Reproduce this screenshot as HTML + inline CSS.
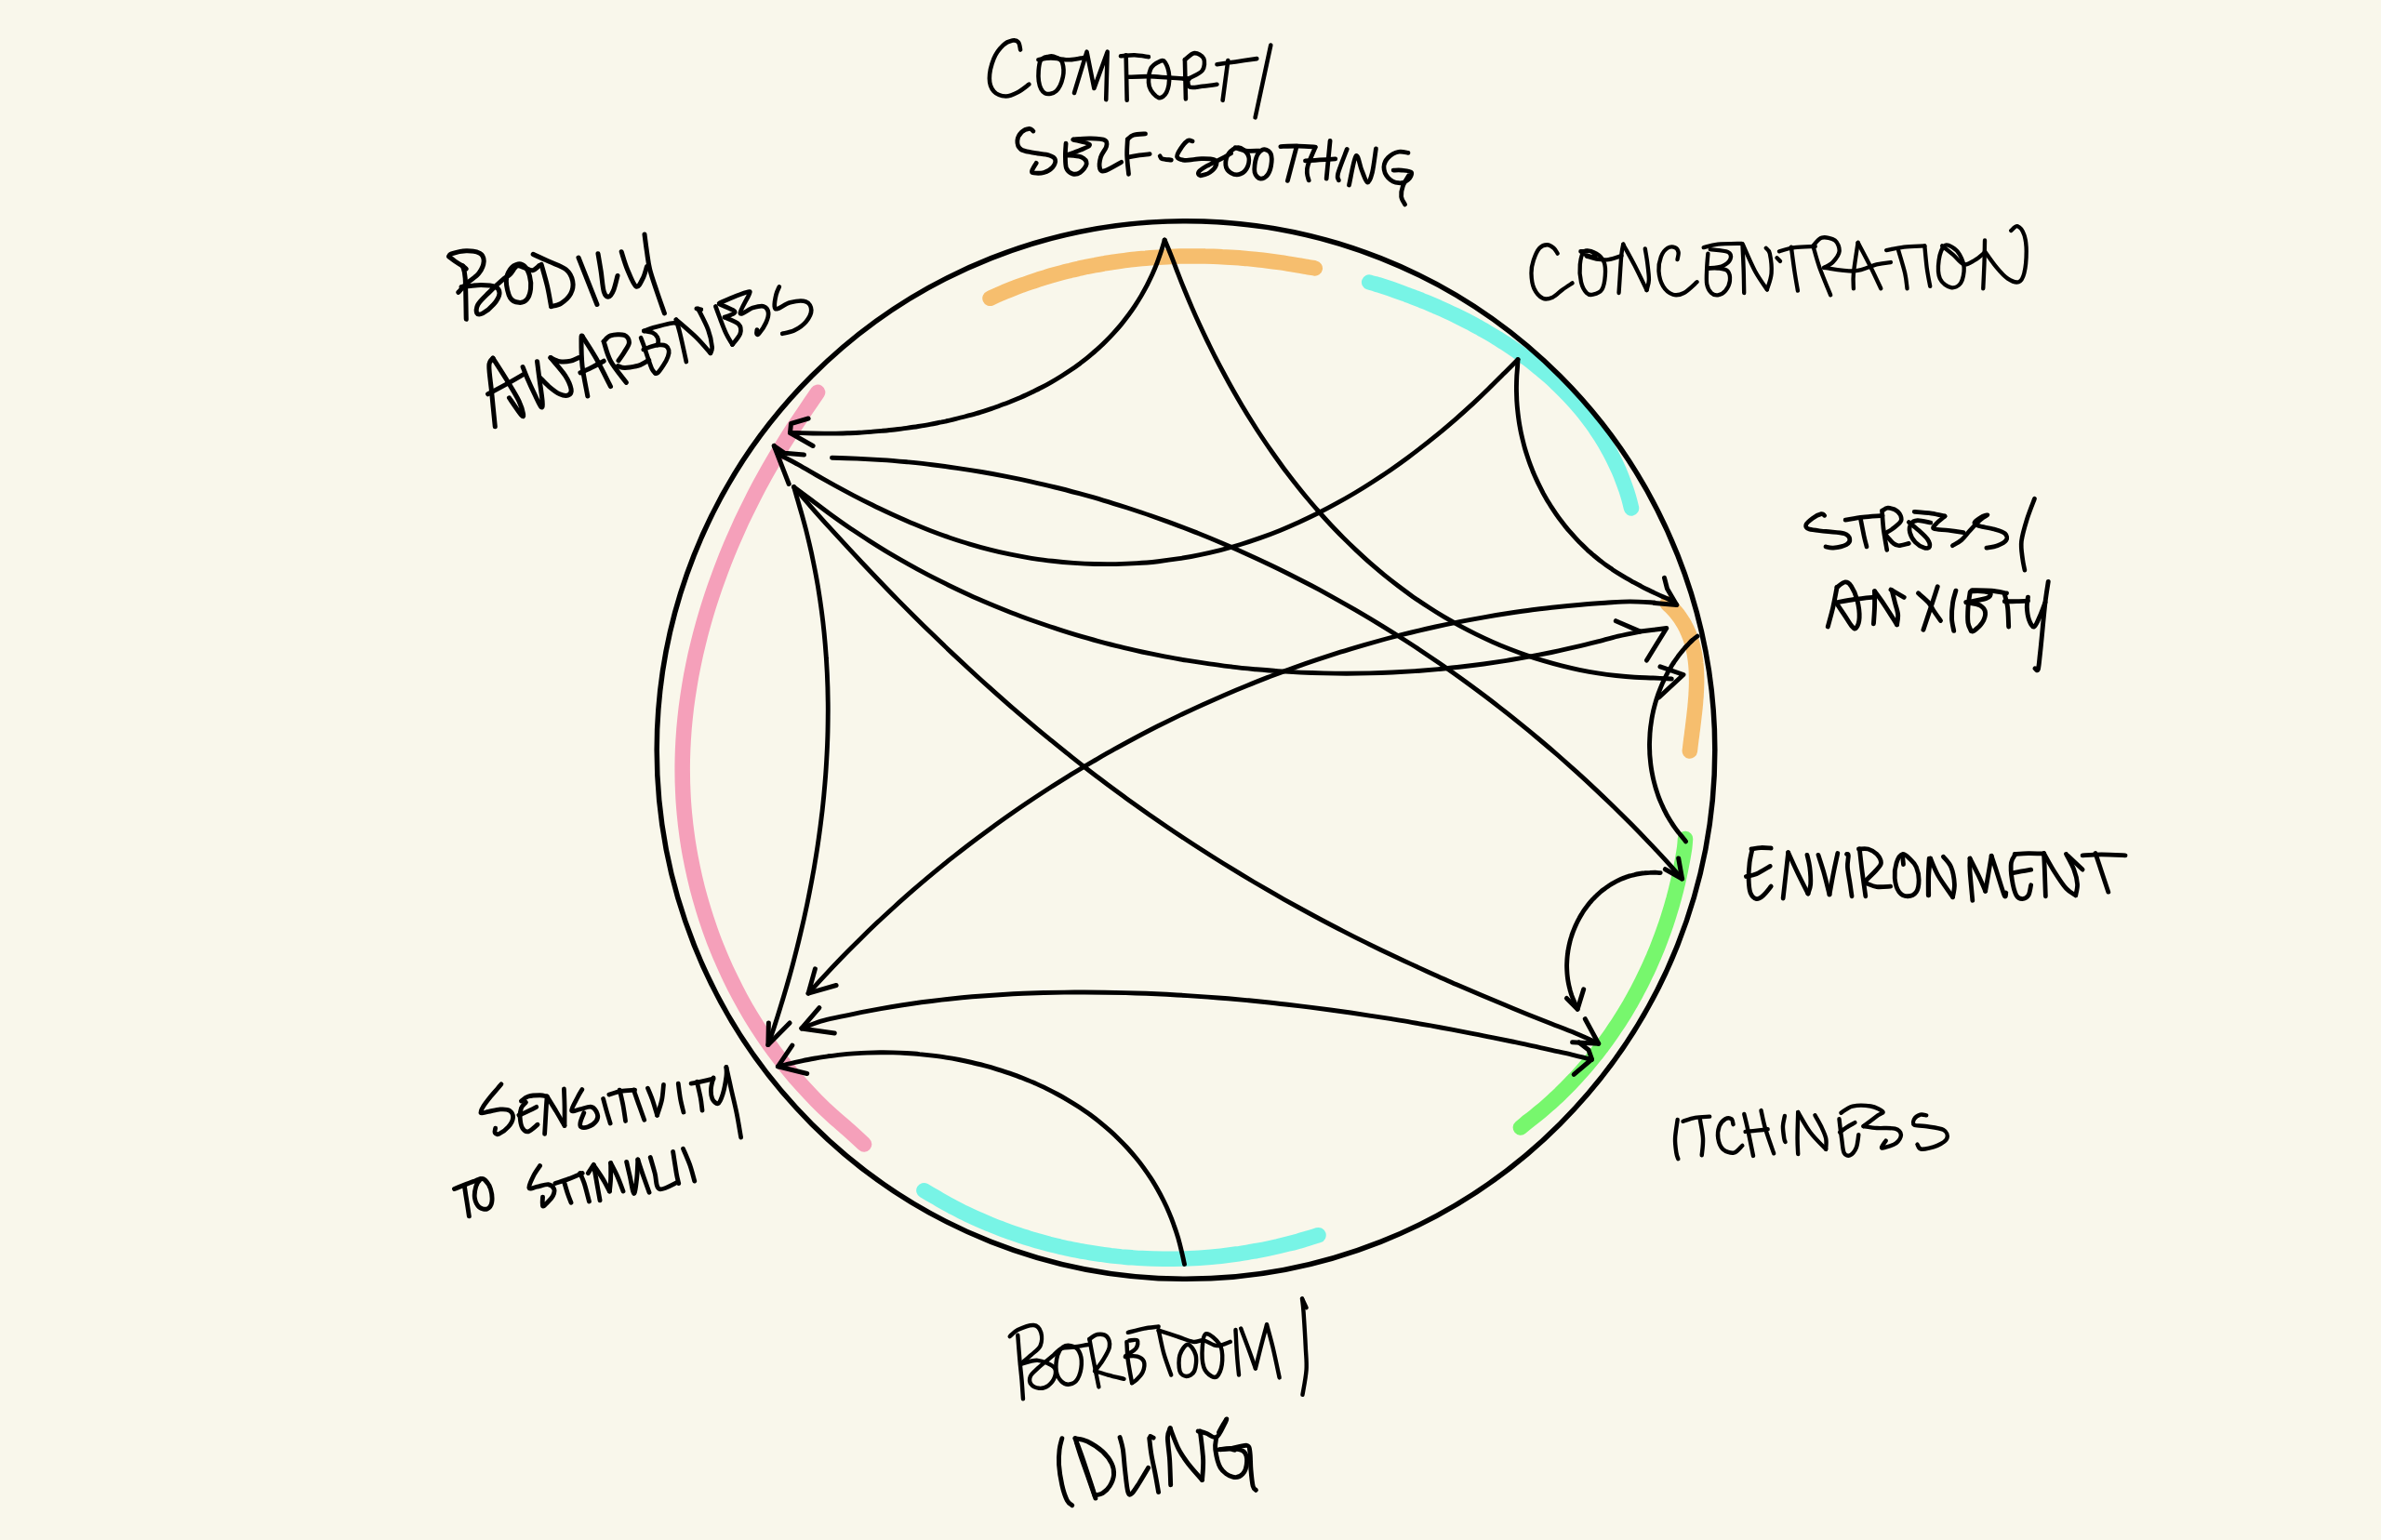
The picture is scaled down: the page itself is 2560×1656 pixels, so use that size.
<!DOCTYPE html>
<html><head><meta charset="utf-8"><title>Diagram</title>
<style>
html,body{margin:0;padding:0;background:#F9F7EB;width:2560px;height:1656px;overflow:hidden;font-family:"Liberation Sans",sans-serif;}
svg{display:block;}
</style></head><body>
<svg width="2560" height="1656" viewBox="0 0 2560 1656">
<rect width="2560" height="1656" fill="#F9F7EB"/>
<g fill="none" stroke-linecap="round" stroke-linejoin="round">

<path d="M1064.5,320.8C1065.9,320.2 1070.0,318.2 1072.8,317.0C1075.6,315.7 1078.4,314.6 1081.2,313.4C1084.1,312.2 1086.9,311.1 1089.7,310.0C1092.6,308.9 1095.4,307.8 1098.3,306.8C1101.2,305.7 1104.0,304.7 1106.9,303.7C1109.8,302.7 1112.7,301.7 1115.6,300.8C1118.5,299.9 1121.4,298.9 1124.3,298.1C1127.2,297.2 1130.1,296.3 1133.1,295.5C1136.0,294.7 1138.9,293.9 1141.9,293.1C1144.8,292.3 1147.8,291.6 1150.7,290.9C1153.7,290.1 1156.6,289.4 1159.6,288.8C1162.6,288.1 1165.6,287.5 1168.5,286.8C1171.5,286.2 1174.5,285.6 1177.5,285.1C1180.5,284.5 1183.5,284.0 1186.5,283.5C1189.5,282.9 1192.5,282.5 1195.5,282.0C1198.5,281.5 1201.5,281.1 1204.5,280.7C1207.5,280.3 1210.6,279.9 1213.6,279.5C1216.6,279.2 1219.6,278.8 1222.7,278.5C1225.7,278.2 1228.7,277.9 1231.8,277.7C1234.8,277.4 1237.8,277.1 1240.9,276.9C1243.9,276.7 1247.0,276.5 1250.0,276.4C1253.0,276.2 1256.1,276.0 1259.1,275.9C1262.2,275.8 1265.2,275.7 1268.3,275.6C1271.3,275.5 1274.4,275.5 1277.4,275.5C1280.5,275.4 1283.5,275.4 1286.6,275.4C1289.7,275.5 1292.7,275.5 1295.8,275.6C1298.8,275.6 1301.9,275.7 1304.9,275.8C1308.0,275.9 1311.0,276.0 1314.1,276.2C1317.1,276.3 1320.2,276.5 1323.2,276.7C1326.3,276.9 1329.3,277.1 1332.3,277.3C1335.4,277.6 1338.4,277.8 1341.5,278.1C1344.5,278.4 1347.5,278.7 1350.6,279.0C1353.6,279.3 1356.7,279.7 1359.7,280.0C1362.7,280.4 1365.7,280.8 1368.8,281.2C1371.8,281.6 1374.8,282.0 1377.8,282.4C1380.8,282.9 1383.8,283.3 1386.8,283.8C1389.8,284.3 1392.8,284.8 1395.8,285.3C1398.8,285.8 1401.8,286.4 1404.8,286.9C1407.8,287.5 1412.3,288.2 1413.8,288.5" stroke="#F6BE6E" stroke-width="16.5"/>
<path d="M1472.2,303.5C1473.8,304.0 1478.5,305.3 1481.7,306.2C1484.8,307.2 1487.8,308.2 1490.9,309.2C1494.0,310.2 1497.1,311.3 1500.2,312.4C1503.3,313.5 1506.4,314.6 1509.5,315.7C1512.6,316.8 1515.7,318.0 1518.8,319.2C1521.9,320.4 1525.0,321.6 1528.1,322.8C1531.2,324.1 1534.3,325.3 1537.3,326.6C1540.4,327.9 1543.5,329.2 1546.5,330.6C1549.6,331.9 1552.7,333.3 1555.7,334.7C1558.7,336.1 1561.8,337.6 1564.8,339.0C1567.8,340.5 1570.8,342.0 1573.8,343.5C1576.8,345.0 1579.8,346.6 1582.7,348.1C1585.7,349.7 1588.7,351.3 1591.6,353.0C1594.5,354.6 1597.4,356.3 1600.3,358.0C1603.2,359.7 1606.1,361.4 1609.0,363.2C1611.8,364.9 1614.6,366.7 1617.5,368.5C1620.3,370.3 1623.1,372.2 1625.8,374.1C1628.6,375.9 1631.3,377.8 1634.0,379.8C1636.8,381.7 1639.4,383.7 1642.1,385.7C1644.8,387.7 1647.4,389.7 1650.0,391.8C1652.6,393.9 1655.2,396.0 1657.7,398.1C1660.3,400.2 1662.8,402.4 1665.3,404.6C1667.7,406.8 1670.2,409.0 1672.6,411.3C1675.0,413.5 1677.4,415.8 1679.7,418.2C1682.0,420.5 1684.3,422.8 1686.6,425.2C1688.9,427.6 1691.1,430.0 1693.3,432.5C1695.5,435.0 1697.6,437.5 1699.7,440.0C1701.8,442.5 1703.9,445.1 1705.9,447.7C1707.9,450.3 1709.9,452.9 1711.8,455.6C1713.7,458.2 1715.6,460.9 1717.4,463.7C1719.3,466.4 1721.0,469.2 1722.8,472.0C1724.5,474.8 1726.2,477.6 1727.8,480.5C1729.5,483.4 1731.1,486.3 1732.6,489.3C1734.1,492.2 1735.6,495.2 1737.0,498.2C1738.5,501.2 1739.8,504.3 1741.2,507.4C1742.5,510.5 1743.7,513.6 1744.9,516.8C1746.1,520.0 1747.3,523.2 1748.4,526.4C1749.4,529.6 1750.5,532.9 1751.4,536.2C1752.4,539.6 1753.6,544.7 1754.0,546.4" stroke="#78F4E6" stroke-width="16.5"/>
<path d="M1792.7,649.0C1793.2,649.5 1794.9,650.9 1795.9,651.9C1797.0,653.0 1798.1,654.1 1799.1,655.2C1800.1,656.3 1801.1,657.4 1802.0,658.5C1803.0,659.7 1803.9,660.8 1804.7,662.0C1805.6,663.1 1806.4,664.3 1807.2,665.5C1808.0,666.7 1808.8,667.9 1809.5,669.1C1810.3,670.3 1811.0,671.5 1811.6,672.8C1812.3,674.0 1812.9,675.2 1813.5,676.5C1814.1,677.8 1814.7,679.0 1815.2,680.3C1815.8,681.6 1816.3,682.9 1816.8,684.2C1817.3,685.5 1817.7,686.8 1818.2,688.2C1818.6,689.5 1819.0,690.8 1819.4,692.2C1819.7,693.5 1820.1,694.9 1820.4,696.2C1820.7,697.6 1821.0,698.9 1821.3,700.3C1821.6,701.7 1821.9,703.1 1822.1,704.5C1822.3,705.9 1822.5,707.3 1822.7,708.7C1822.9,710.1 1823.1,711.5 1823.2,712.9C1823.4,714.3 1823.5,715.7 1823.6,717.2C1823.7,718.6 1823.8,720.0 1823.9,721.5C1823.9,722.9 1824.0,724.3 1824.0,725.8C1824.1,727.2 1824.1,728.7 1824.1,730.1C1824.1,731.6 1824.1,733.0 1824.1,734.5C1824.1,735.9 1824.0,737.4 1824.0,738.9C1823.9,740.3 1823.9,741.8 1823.8,743.2C1823.7,744.7 1823.6,746.2 1823.6,747.6C1823.5,749.1 1823.4,750.5 1823.2,752.0C1823.1,753.5 1823.0,754.9 1822.9,756.4C1822.7,757.9 1822.6,759.3 1822.5,760.8C1822.3,762.2 1822.2,763.7 1822.0,765.1C1821.9,766.6 1821.7,768.0 1821.5,769.5C1821.4,770.9 1821.2,772.4 1821.0,773.8C1820.8,775.3 1820.7,776.7 1820.5,778.1C1820.3,779.6 1820.1,781.0 1820.0,782.4C1819.8,783.8 1819.6,785.3 1819.4,786.7C1819.2,788.1 1819.1,789.5 1818.9,790.9C1818.7,792.3 1818.5,793.7 1818.3,795.1C1818.2,796.5 1818.0,797.8 1817.8,799.2C1817.7,800.6 1817.5,801.9 1817.3,803.3C1817.2,804.7 1816.9,806.8 1816.8,807.5" stroke="#F6BE6E" stroke-width="16.5"/>
<path d="M1812.0,902.0C1811.9,903.6 1811.6,908.3 1811.2,911.4C1810.8,914.5 1810.2,917.6 1809.7,920.7C1809.2,923.8 1808.6,926.9 1808.0,929.9C1807.4,933.0 1806.8,936.1 1806.1,939.2C1805.5,942.3 1804.8,945.3 1804.1,948.4C1803.4,951.4 1802.6,954.5 1801.9,957.6C1801.1,960.6 1800.3,963.6 1799.5,966.7C1798.6,969.7 1797.8,972.7 1796.9,975.8C1796.0,978.8 1795.1,981.8 1794.1,984.8C1793.2,987.8 1792.2,990.8 1791.2,993.8C1790.2,996.7 1789.2,999.7 1788.1,1002.7C1787.0,1005.6 1785.9,1008.6 1784.8,1011.5C1783.7,1014.5 1782.6,1017.4 1781.4,1020.3C1780.2,1023.2 1779.0,1026.1 1777.8,1029.0C1776.5,1031.9 1775.3,1034.8 1774.0,1037.7C1772.7,1040.5 1771.4,1043.4 1770.0,1046.2C1768.7,1049.1 1767.3,1051.9 1765.9,1054.7C1764.5,1057.5 1763.1,1060.3 1761.6,1063.1C1760.2,1065.9 1758.7,1068.6 1757.2,1071.4C1755.7,1074.1 1754.1,1076.9 1752.6,1079.6C1751.0,1082.3 1749.4,1085.0 1747.8,1087.7C1746.2,1090.4 1744.5,1093.1 1742.8,1095.7C1741.2,1098.4 1739.5,1101.0 1737.7,1103.6C1736.0,1106.2 1734.3,1108.8 1732.5,1111.4C1730.7,1114.0 1728.9,1116.5 1727.0,1119.1C1725.2,1121.6 1723.3,1124.1 1721.5,1126.6C1719.6,1129.1 1717.6,1131.6 1715.7,1134.0C1713.8,1136.5 1711.8,1138.9 1709.8,1141.3C1707.8,1143.8 1705.8,1146.1 1703.7,1148.5C1701.7,1150.9 1699.6,1153.2 1697.5,1155.5C1695.4,1157.9 1693.3,1160.2 1691.1,1162.4C1689.0,1164.7 1686.8,1167.0 1684.6,1169.2C1682.4,1171.4 1680.2,1173.6 1677.9,1175.8C1675.7,1178.0 1673.4,1180.1 1671.1,1182.2C1668.8,1184.4 1666.5,1186.5 1664.1,1188.5C1661.8,1190.6 1659.4,1192.7 1657.0,1194.7C1654.6,1196.7 1652.1,1198.7 1649.7,1200.6C1647.2,1202.6 1644.7,1204.5 1642.2,1206.4C1639.8,1208.4 1636.1,1211.5 1634.9,1212.5" stroke="#77F76D" stroke-width="16.5"/>
<path d="M993.4,1280.2C995.0,1281.1 999.9,1284.0 1003.2,1285.9C1006.4,1287.8 1009.7,1289.7 1013.0,1291.6C1016.3,1293.5 1019.6,1295.3 1022.9,1297.1C1026.2,1298.8 1029.6,1300.6 1033.0,1302.3C1036.3,1304.0 1039.7,1305.6 1043.1,1307.2C1046.5,1308.8 1050.0,1310.4 1053.4,1311.9C1056.8,1313.4 1060.3,1314.9 1063.8,1316.4C1067.3,1317.8 1070.7,1319.2 1074.3,1320.5C1077.8,1321.9 1081.3,1323.2 1084.8,1324.5C1088.4,1325.8 1091.9,1327.0 1095.5,1328.2C1099.0,1329.4 1102.6,1330.5 1106.2,1331.6C1109.8,1332.7 1113.4,1333.8 1117.0,1334.8C1120.6,1335.8 1124.3,1336.8 1127.9,1337.8C1131.6,1338.7 1135.2,1339.6 1138.9,1340.4C1142.5,1341.3 1146.2,1342.1 1149.9,1342.9C1153.5,1343.7 1157.2,1344.4 1160.9,1345.1C1164.6,1345.8 1168.3,1346.4 1172.0,1347.0C1175.7,1347.6 1179.5,1348.2 1183.2,1348.7C1186.9,1349.3 1190.6,1349.7 1194.4,1350.2C1198.1,1350.6 1201.8,1351.0 1205.6,1351.4C1209.3,1351.7 1213.1,1352.1 1216.8,1352.3C1220.6,1352.6 1224.3,1352.9 1228.1,1353.1C1231.9,1353.3 1235.6,1353.4 1239.4,1353.5C1243.1,1353.6 1246.9,1353.7 1250.7,1353.8C1254.4,1353.8 1258.2,1353.8 1262.0,1353.7C1265.7,1353.7 1269.5,1353.6 1273.3,1353.5C1277.0,1353.3 1280.8,1353.2 1284.6,1353.0C1288.3,1352.8 1292.1,1352.5 1295.8,1352.2C1299.6,1351.9 1303.3,1351.6 1307.1,1351.2C1310.8,1350.9 1314.6,1350.5 1318.3,1350.0C1322.1,1349.6 1325.8,1349.1 1329.5,1348.5C1333.3,1348.0 1337.0,1347.4 1340.7,1346.8C1344.4,1346.2 1348.1,1345.6 1351.8,1344.9C1355.6,1344.2 1359.3,1343.5 1362.9,1342.7C1366.6,1341.9 1370.3,1341.1 1374.0,1340.3C1377.6,1339.4 1381.3,1338.5 1385.0,1337.6C1388.6,1336.7 1392.3,1335.7 1395.9,1334.7C1399.5,1333.7 1403.1,1332.6 1406.7,1331.5C1410.3,1330.5 1415.7,1328.8 1417.5,1328.2" stroke="#78F4E6" stroke-width="16.5"/>
<path d="M879.1,421.8C876.9,425.0 870.4,434.6 866.1,441.0C861.9,447.3 857.6,453.5 853.4,459.9C849.3,466.3 845.2,472.8 841.2,479.3C837.2,485.8 833.2,492.4 829.4,499.1C825.5,505.8 821.8,512.5 818.1,519.3C814.4,526.1 810.9,533.0 807.4,539.9C803.9,546.8 800.5,553.8 797.2,560.8C794.0,567.9 790.8,575.0 787.7,582.1C784.6,589.2 781.7,596.4 778.8,603.7C776.0,610.9 773.3,618.2 770.7,625.5C768.0,632.8 765.6,640.1 763.2,647.5C760.8,654.9 758.6,662.4 756.5,669.8C754.4,677.3 752.4,684.8 750.6,692.3C748.7,699.8 747.0,707.3 745.5,714.9C743.9,722.4 742.5,730.0 741.3,737.6C740.0,745.2 738.9,752.9 737.9,760.5C737.0,768.1 736.2,775.8 735.5,783.4C734.9,791.1 734.4,798.7 734.1,806.4C733.8,814.1 733.6,821.7 733.7,829.4C733.7,837.1 733.9,844.7 734.3,852.4C734.6,860.1 735.2,867.7 735.9,875.3C736.6,883.0 737.5,890.6 738.6,898.2C739.6,905.8 740.9,913.4 742.3,921.0C743.7,928.5 745.3,936.0 747.0,943.5C748.7,951.0 750.6,958.4 752.7,965.8C754.8,973.2 757.0,980.6 759.4,987.9C761.8,995.2 764.3,1002.5 767.0,1009.7C769.8,1016.8 772.6,1024.0 775.7,1031.0C778.7,1038.1 781.9,1045.1 785.3,1052.0C788.6,1058.9 792.1,1065.8 795.8,1072.6C799.4,1079.3 803.2,1086.0 807.2,1092.6C811.2,1099.2 815.3,1105.7 819.6,1112.1C823.8,1118.5 828.3,1124.8 832.8,1131.0C837.4,1137.2 842.1,1143.3 847.0,1149.2C851.8,1155.2 856.8,1161.1 862.0,1166.8C867.2,1172.5 872.5,1178.2 877.9,1183.7C883.3,1189.2 888.9,1194.5 894.6,1199.7C900.4,1205.0 906.5,1209.9 912.2,1215.0C918.0,1220.1 926.3,1227.9 929.1,1230.5" stroke="#F5A0BA" stroke-width="16.5"/>
<circle cx="1275" cy="806.5" r="568.8" stroke="#000" stroke-width="5.5"/>
<g stroke="#000" stroke-width="4.9">
<path d="M1252.2,258.0C1251.6,260.0 1249.9,265.9 1248.5,270.1C1247.1,274.2 1245.6,278.6 1244.0,282.8C1242.4,286.9 1240.7,291.0 1238.9,295.0C1237.1,298.9 1235.2,302.8 1233.3,306.7C1231.3,310.5 1229.2,314.2 1227.1,317.9C1225.0,321.5 1222.7,325.1 1220.4,328.6C1218.1,332.1 1215.7,335.5 1213.3,338.8C1210.8,342.1 1208.3,345.4 1205.7,348.6C1203.1,351.7 1200.4,354.8 1197.6,357.9C1194.9,360.9 1192.0,363.9 1189.1,366.7C1186.3,369.6 1183.3,372.4 1180.3,375.1C1177.2,377.9 1174.1,380.5 1171.0,383.1C1167.8,385.7 1164.6,388.2 1161.4,390.7C1158.1,393.1 1154.8,395.5 1151.4,397.8C1148.0,400.1 1144.6,402.3 1141.1,404.5C1137.6,406.7 1134.1,408.8 1130.5,410.8C1126.9,412.9 1123.3,414.9 1119.6,416.8C1116.0,418.7 1112.2,420.5 1108.5,422.3C1104.7,424.1 1100.9,425.8 1097.1,427.5C1093.3,429.1 1089.4,430.7 1085.5,432.3C1081.6,433.8 1077.7,435.3 1073.7,436.7C1069.7,438.2 1065.7,439.5 1061.7,440.8C1057.7,442.1 1053.7,443.4 1049.6,444.6C1045.5,445.8 1041.4,446.9 1037.3,448.0C1033.2,449.1 1029.0,450.1 1024.9,451.1C1020.7,452.1 1016.6,453.0 1012.4,453.9C1008.2,454.7 1004.0,455.6 999.8,456.3C995.6,457.1 991.4,457.8 987.2,458.5C982.9,459.2 978.7,459.8 974.5,460.4C970.2,461.0 966.0,461.5 961.8,462.0C957.5,462.5 953.3,462.9 949.1,463.3C944.8,463.7 940.6,464.1 936.4,464.4C932.2,464.7 928.0,465.0 923.8,465.2C919.6,465.4 915.4,465.6 911.2,465.7C907.0,465.9 902.8,466.0 898.7,466.1C894.5,466.1 890.4,466.1 886.3,466.1C882.2,466.1 878.1,466.1 874.0,466.0C870.0,465.9 866.0,465.7 861.9,465.6C857.8,465.6 851.6,465.5 849.5,465.5"/>
<path d="M1252.2,258.0C1253.5,261.0 1257.4,270.2 1259.8,276.3C1262.2,282.3 1264.3,288.4 1266.7,294.4C1269.0,300.5 1271.4,306.5 1273.9,312.5C1276.4,318.6 1278.9,324.6 1281.5,330.6C1284.1,336.7 1286.8,342.7 1289.6,348.7C1292.3,354.6 1295.1,360.6 1298.0,366.6C1300.9,372.5 1303.8,378.5 1306.8,384.4C1309.8,390.3 1312.9,396.2 1316.1,402.0C1319.2,407.9 1322.4,413.7 1325.7,419.5C1329.0,425.3 1332.3,431.0 1335.7,436.7C1339.1,442.4 1342.6,448.1 1346.2,453.7C1349.7,459.4 1353.3,465.0 1357.0,470.5C1360.7,476.1 1364.4,481.5 1368.3,487.0C1372.1,492.4 1376.0,497.8 1379.9,503.2C1383.9,508.5 1387.9,513.8 1392.0,519.0C1396.1,524.2 1400.2,529.4 1404.5,534.5C1408.7,539.5 1413.0,544.6 1417.4,549.5C1421.7,554.5 1426.2,559.4 1430.7,564.2C1435.2,569.0 1439.8,573.7 1444.4,578.4C1449.1,583.1 1453.8,587.6 1458.6,592.1C1463.4,596.6 1468.2,601.1 1473.1,605.4C1478.1,609.7 1483.1,614.0 1488.1,618.1C1493.2,622.2 1498.4,626.3 1503.6,630.3C1508.8,634.2 1514.1,638.1 1519.4,641.9C1524.8,645.6 1530.2,649.3 1535.7,652.8C1541.2,656.4 1546.7,659.9 1552.3,663.2C1558.0,666.5 1563.7,669.8 1569.4,672.9C1575.2,676.0 1581.0,679.0 1586.8,681.9C1592.7,684.8 1598.6,687.6 1604.6,690.2C1610.6,692.9 1616.6,695.4 1622.7,697.8C1628.8,700.2 1635.0,702.5 1641.2,704.6C1647.4,706.8 1653.6,708.8 1659.9,710.7C1666.2,712.6 1672.6,714.3 1679.0,715.9C1685.3,717.5 1691.8,719.0 1698.2,720.3C1704.7,721.6 1711.2,722.8 1717.8,723.8C1724.4,724.9 1731.0,725.8 1737.6,726.5C1744.2,727.2 1750.9,727.8 1757.6,728.2C1764.3,728.6 1771.2,728.7 1777.8,729.0C1784.4,729.3 1794.0,729.8 1797.3,730.0"/>
<path d="M1632.0,386.6C1629.3,389.3 1621.4,397.3 1616.0,402.6C1610.7,407.9 1605.4,413.3 1600.0,418.5C1594.6,423.8 1589.1,429.0 1583.6,434.1C1578.0,439.2 1572.4,444.3 1566.7,449.3C1561.0,454.3 1555.2,459.2 1549.4,464.1C1543.5,468.9 1537.6,473.7 1531.6,478.4C1525.7,483.0 1519.6,487.7 1513.5,492.2C1507.4,496.7 1501.3,501.1 1495.0,505.4C1488.8,509.7 1482.5,513.9 1476.1,518.0C1469.8,522.1 1463.3,526.1 1456.8,530.0C1450.4,533.8 1443.8,537.6 1437.2,541.2C1430.6,544.9 1423.9,548.4 1417.2,551.8C1410.5,555.1 1403.7,558.4 1396.8,561.5C1390.0,564.6 1383.1,567.6 1376.1,570.4C1369.2,573.2 1362.1,575.9 1355.1,578.4C1348.0,580.9 1340.9,583.3 1333.7,585.5C1326.5,587.7 1319.3,589.7 1312.0,591.6C1304.7,593.4 1297.4,595.1 1290.0,596.6C1282.6,598.2 1275.2,599.5 1267.7,600.7C1260.3,601.8 1252.8,602.8 1245.2,603.7C1237.7,604.5 1230.1,605.2 1222.6,605.6C1215.0,606.1 1207.4,606.4 1199.8,606.6C1192.2,606.7 1184.6,606.7 1177.0,606.5C1169.4,606.3 1161.8,605.9 1154.2,605.4C1146.6,604.9 1139.1,604.2 1131.5,603.3C1124.0,602.5 1116.4,601.4 1109.0,600.3C1101.5,599.1 1094.0,597.7 1086.6,596.2C1079.2,594.7 1071.8,593.0 1064.5,591.1C1057.2,589.3 1049.9,587.3 1042.7,585.1C1035.5,583.0 1028.3,580.6 1021.2,578.2C1014.1,575.8 1007.0,573.2 1000.0,570.5C993.0,567.7 986.0,564.9 979.1,562.0C972.2,559.0 965.3,556.0 958.4,552.8C951.6,549.6 944.8,546.4 938.0,543.0C931.2,539.7 924.5,536.3 917.8,532.8C911.1,529.3 904.4,525.7 897.8,522.1C891.2,518.4 884.6,514.7 878.0,511.0C871.4,507.2 864.9,503.3 858.3,499.6C851.7,496.0 841.6,490.9 838.2,489.1"/>
<path d="M1632.0,386.6C1631.9,388.0 1631.7,392.2 1631.5,395.1C1631.3,398.1 1631.0,401.1 1630.8,404.1C1630.7,407.1 1630.5,410.1 1630.5,413.0C1630.4,416.0 1630.4,419.0 1630.5,421.9C1630.6,424.9 1630.7,427.8 1630.8,430.8C1631.0,433.7 1631.2,436.6 1631.5,439.6C1631.8,442.5 1632.1,445.4 1632.5,448.3C1632.9,451.2 1633.3,454.1 1633.8,457.0C1634.3,459.8 1634.8,462.7 1635.4,465.6C1636.0,468.4 1636.7,471.2 1637.4,474.0C1638.1,476.9 1638.8,479.7 1639.6,482.5C1640.4,485.2 1641.3,488.0 1642.2,490.7C1643.1,493.5 1644.0,496.2 1645.0,498.9C1646.0,501.6 1647.1,504.3 1648.1,507.0C1649.2,509.7 1650.4,512.3 1651.6,514.9C1652.8,517.6 1654.0,520.2 1655.3,522.7C1656.6,525.3 1657.9,527.9 1659.2,530.4C1660.6,532.9 1662.0,535.4 1663.5,537.9C1665.0,540.3 1666.5,542.8 1668.0,545.2C1669.6,547.6 1671.2,550.0 1672.8,552.4C1674.4,554.7 1676.1,557.1 1677.8,559.3C1679.6,561.6 1681.3,563.9 1683.1,566.1C1684.9,568.4 1686.8,570.6 1688.7,572.7C1690.6,574.9 1692.5,577.0 1694.5,579.1C1696.4,581.2 1698.4,583.3 1700.5,585.3C1702.5,587.3 1704.6,589.3 1706.7,591.3C1708.9,593.2 1711.0,595.1 1713.2,597.0C1715.4,598.8 1717.7,600.7 1719.9,602.5C1722.2,604.2 1724.5,606.0 1726.9,607.7C1729.2,609.4 1731.6,611.0 1734.0,612.7C1736.4,614.3 1738.9,615.9 1741.4,617.4C1743.8,618.9 1746.3,620.4 1748.9,621.9C1751.4,623.4 1754.0,624.8 1756.5,626.2C1759.1,627.6 1761.7,629.0 1764.3,630.3C1766.9,631.7 1769.5,633.0 1772.1,634.3C1774.8,635.6 1777.4,636.8 1780.1,638.1C1782.7,639.3 1785.3,640.5 1788.0,641.8C1790.6,643.0 1793.5,643.9 1795.9,645.3C1798.4,646.8 1801.6,649.6 1802.7,650.5"/>
<path d="M894.5,492.3C899.0,492.4 912.3,492.7 921.3,493.1C930.3,493.5 939.4,494.0 948.4,494.6C957.4,495.2 966.4,496.0 975.4,496.8C984.3,497.7 993.3,498.6 1002.2,499.7C1011.1,500.8 1020.1,502.0 1028.9,503.3C1037.8,504.6 1046.7,506.0 1055.5,507.5C1064.4,509.0 1073.2,510.6 1082.0,512.4C1090.8,514.1 1099.6,515.9 1108.3,517.9C1117.0,519.8 1125.8,521.8 1134.5,524.0C1143.1,526.1 1151.8,528.4 1160.4,530.7C1169.1,533.1 1177.7,535.5 1186.3,538.1C1194.8,540.6 1203.4,543.3 1211.9,546.0C1220.4,548.8 1228.9,551.6 1237.3,554.5C1245.8,557.5 1254.2,560.5 1262.6,563.6C1271.0,566.7 1279.3,570.0 1287.7,573.3C1296.0,576.6 1304.3,580.0 1312.5,583.5C1320.8,587.0 1329.0,590.5 1337.1,594.2C1345.3,597.9 1353.5,601.6 1361.5,605.5C1369.6,609.3 1377.7,613.2 1385.7,617.3C1393.7,621.3 1401.7,625.4 1409.7,629.5C1417.6,633.7 1425.5,638.0 1433.3,642.3C1441.2,646.7 1449.0,651.1 1456.8,655.6C1464.5,660.1 1472.3,664.7 1479.9,669.3C1487.6,674.0 1495.3,678.7 1502.8,683.5C1510.4,688.4 1518.0,693.2 1525.5,698.2C1533.0,703.2 1540.4,708.2 1547.8,713.3C1555.2,718.4 1562.5,723.6 1569.8,728.8C1577.1,734.1 1584.4,739.4 1591.6,744.8C1598.8,750.1 1605.9,755.6 1613.0,761.1C1620.1,766.6 1627.1,772.2 1634.1,777.9C1641.1,783.5 1648.0,789.2 1654.9,795.0C1661.8,800.8 1668.6,806.6 1675.4,812.5C1682.1,818.4 1688.8,824.4 1695.5,830.4C1702.1,836.4 1708.7,842.5 1715.2,848.6C1721.8,854.8 1728.2,861.0 1734.7,867.2C1741.1,873.5 1747.4,879.8 1753.7,886.1C1760.0,892.5 1766.2,898.9 1772.4,905.4C1778.6,911.8 1784.7,918.3 1790.7,924.9C1796.7,931.5 1805.6,941.7 1808.6,945.0"/>
<path d="M853.6,523.6C854.3,526.1 856.4,533.6 857.9,538.6C859.3,543.7 860.9,548.7 862.3,553.8C863.7,558.8 865.1,563.9 866.4,569.0C867.7,574.1 868.9,579.2 870.1,584.3C871.3,589.4 872.5,594.5 873.5,599.6C874.6,604.7 875.6,609.8 876.6,615.0C877.6,620.1 878.5,625.2 879.4,630.4C880.2,635.5 881.0,640.7 881.8,645.8C882.5,651.0 883.3,656.2 883.9,661.3C884.6,666.5 885.2,671.7 885.7,676.8C886.3,682.0 886.7,687.2 887.2,692.4C887.6,697.6 888.0,702.8 888.4,708.0C888.7,713.2 889.0,718.4 889.3,723.6C889.5,728.8 889.7,734.0 889.9,739.2C890.0,744.4 890.1,749.6 890.2,754.8C890.3,760.0 890.3,765.2 890.2,770.4C890.2,775.7 890.1,780.9 890.0,786.1C889.9,791.3 889.7,796.5 889.5,801.7C889.3,806.9 889.0,812.2 888.7,817.4C888.4,822.6 888.1,827.8 887.7,833.0C887.3,838.2 886.9,843.4 886.4,848.6C886.0,853.8 885.5,859.0 884.9,864.2C884.4,869.4 883.8,874.6 883.1,879.8C882.5,885.0 881.8,890.2 881.1,895.4C880.4,900.6 879.7,905.7 878.9,910.9C878.1,916.1 877.3,921.3 876.4,926.4C875.6,931.6 874.7,936.8 873.7,941.9C872.8,947.1 871.8,952.2 870.8,957.3C869.8,962.5 868.8,967.6 867.7,972.7C866.6,977.9 865.5,983.0 864.4,988.1C863.2,993.2 862.0,998.3 860.8,1003.4C859.6,1008.5 858.4,1013.6 857.1,1018.6C855.8,1023.7 854.5,1028.8 853.2,1033.8C851.9,1038.9 850.5,1043.9 849.1,1049.0C847.7,1054.0 846.3,1059.0 844.8,1064.0C843.3,1069.0 841.9,1074.0 840.3,1079.0C838.8,1084.0 837.3,1089.0 835.7,1093.9C834.1,1098.9 832.6,1103.8 830.9,1108.8C829.3,1113.7 826.7,1121.1 825.9,1123.6"/>
<path d="M853.6,523.6C856.6,527.0 865.4,537.5 871.4,544.3C877.3,551.1 883.4,557.8 889.5,564.6C895.6,571.3 901.7,578.0 907.9,584.7C914.0,591.4 920.2,598.0 926.5,604.7C932.7,611.3 939.0,617.9 945.3,624.5C951.6,631.0 957.9,637.6 964.3,644.1C970.7,650.6 977.1,657.0 983.6,663.4C990.1,669.9 996.6,676.3 1003.1,682.6C1009.7,689.0 1016.2,695.3 1022.9,701.6C1029.5,707.8 1036.2,714.0 1042.9,720.2C1049.6,726.4 1056.3,732.6 1063.1,738.6C1069.9,744.7 1076.7,750.8 1083.6,756.8C1090.4,762.8 1097.3,768.7 1104.3,774.6C1111.2,780.5 1118.2,786.4 1125.2,792.2C1132.3,797.9 1139.3,803.7 1146.5,809.4C1153.6,815.0 1160.7,820.7 1167.9,826.2C1175.1,831.8 1182.4,837.3 1189.6,842.8C1196.9,848.2 1204.2,853.6 1211.6,858.9C1219.0,864.2 1226.4,869.5 1233.8,874.7C1241.3,879.9 1248.7,885.1 1256.3,890.2C1263.8,895.3 1271.3,900.3 1278.9,905.3C1286.5,910.3 1294.2,915.2 1301.8,920.0C1309.5,924.9 1317.2,929.7 1325.0,934.4C1332.7,939.2 1340.5,943.9 1348.3,948.5C1356.1,953.1 1364.0,957.7 1371.9,962.2C1379.8,966.7 1387.7,971.1 1395.7,975.5C1403.6,979.9 1411.6,984.2 1419.6,988.5C1427.7,992.8 1435.7,997.0 1443.8,1001.1C1451.9,1005.3 1460.0,1009.4 1468.2,1013.4C1476.3,1017.4 1484.5,1021.4 1492.7,1025.3C1500.9,1029.2 1509.2,1033.1 1517.5,1036.9C1525.7,1040.7 1534.0,1044.5 1542.3,1048.2C1550.6,1052.0 1559.0,1055.6 1567.3,1059.3C1575.7,1062.9 1584.1,1066.5 1592.5,1070.0C1600.9,1073.6 1609.3,1077.1 1617.7,1080.6C1626.1,1084.1 1634.6,1087.5 1643.0,1090.9C1651.5,1094.3 1659.9,1097.7 1668.4,1101.1C1676.9,1104.4 1685.5,1107.5 1693.8,1111.1C1702.2,1114.6 1714.6,1120.3 1718.7,1122.2"/>
<path d="M853.6,523.6C856.9,526.0 866.6,533.3 873.2,538.2C879.8,543.2 886.4,548.3 893.1,553.2C899.8,558.1 906.5,562.8 913.3,567.5C920.2,572.1 927.0,576.7 934.0,581.1C940.9,585.5 947.9,589.9 954.9,594.1C962.0,598.3 969.1,602.4 976.2,606.4C983.4,610.5 990.6,614.4 997.8,618.2C1005.1,622.0 1012.4,625.6 1019.8,629.2C1027.1,632.8 1034.5,636.3 1042.0,639.7C1049.4,643.1 1056.9,646.3 1064.4,649.5C1072.0,652.7 1079.5,655.7 1087.1,658.7C1094.8,661.7 1102.4,664.5 1110.1,667.3C1117.8,670.0 1125.5,672.7 1133.3,675.2C1141.1,677.8 1148.9,680.2 1156.7,682.6C1164.5,684.9 1172.4,687.2 1180.3,689.3C1188.2,691.4 1196.1,693.5 1204.0,695.4C1212.0,697.4 1219.9,699.2 1227.9,701.0C1235.9,702.7 1244.0,704.3 1252.0,705.9C1260.0,707.4 1268.1,708.9 1276.2,710.2C1284.3,711.6 1292.4,712.8 1300.5,713.9C1308.6,715.1 1316.8,716.1 1324.9,717.1C1333.0,718.1 1341.2,718.9 1349.4,719.7C1357.6,720.4 1365.7,721.1 1373.9,721.6C1382.1,722.2 1390.3,722.7 1398.5,723.1C1406.7,723.4 1415.0,723.7 1423.2,723.9C1431.4,724.1 1439.6,724.2 1447.8,724.2C1456.1,724.1 1464.3,724.0 1472.5,723.9C1480.7,723.7 1488.9,723.4 1497.1,723.0C1505.4,722.6 1513.6,722.1 1521.8,721.6C1530.0,721.0 1538.2,720.3 1546.4,719.6C1554.5,718.8 1562.7,718.0 1570.9,717.0C1579.0,716.1 1587.2,715.1 1595.3,714.0C1603.5,712.8 1611.6,711.6 1619.7,710.3C1627.8,709.0 1635.9,707.6 1643.9,706.2C1652.0,704.7 1660.0,703.1 1668.1,701.5C1676.1,699.8 1684.1,698.1 1692.1,696.2C1700.0,694.4 1708.0,692.5 1715.9,690.4C1723.8,688.4 1731.6,686.0 1739.6,684.1C1747.5,682.3 1759.6,679.9 1763.6,679.1"/>
<path d="M1779.0,648.0C1774.6,647.8 1761.2,646.9 1752.4,646.9C1743.6,647.0 1734.9,647.7 1726.1,648.2C1717.3,648.8 1708.6,649.4 1699.8,650.2C1691.1,650.9 1682.3,651.7 1673.6,652.7C1664.8,653.6 1656.1,654.7 1647.4,655.8C1638.7,656.9 1630.0,658.2 1621.3,659.5C1612.6,660.8 1603.9,662.2 1595.2,663.8C1586.6,665.3 1577.9,666.9 1569.3,668.6C1560.6,670.3 1552.0,672.1 1543.4,674.0C1534.8,675.9 1526.2,677.9 1517.7,680.0C1509.1,682.1 1500.6,684.3 1492.0,686.5C1483.5,688.8 1475.0,691.2 1466.6,693.6C1458.1,696.1 1449.6,698.6 1441.2,701.2C1432.8,703.9 1424.4,706.6 1416.0,709.4C1407.6,712.2 1399.3,715.1 1391.0,718.1C1382.7,721.0 1374.4,724.1 1366.1,727.2C1357.9,730.4 1349.6,733.6 1341.5,737.0C1333.3,740.3 1325.1,743.7 1317.0,747.2C1308.9,750.7 1300.8,754.3 1292.7,757.9C1284.7,761.6 1276.7,765.3 1268.7,769.1C1260.7,773.0 1252.8,776.9 1244.9,780.8C1237.0,784.8 1229.2,788.9 1221.4,793.0C1213.6,797.2 1205.8,801.4 1198.1,805.7C1190.3,810.0 1182.7,814.4 1175.0,818.8C1167.4,823.3 1159.8,827.8 1152.3,832.4C1144.8,837.1 1137.3,841.7 1129.8,846.5C1122.4,851.3 1115.0,856.1 1107.7,861.0C1100.3,865.9 1093.1,870.9 1085.8,876.0C1078.6,881.0 1071.4,886.2 1064.3,891.4C1057.2,896.6 1050.1,901.8 1043.1,907.2C1036.1,912.5 1029.2,918.0 1022.3,923.4C1015.4,928.9 1008.6,934.5 1001.8,940.1C995.1,945.7 988.3,951.4 981.7,957.2C975.1,963.0 968.5,968.8 962.0,974.7C955.5,980.6 949.0,986.5 942.6,992.6C936.3,998.6 930.0,1004.7 923.7,1010.9C917.5,1017.0 911.3,1023.2 905.2,1029.5C899.1,1035.8 893.1,1042.1 887.1,1048.6C881.1,1055.0 872.1,1064.9 869.1,1068.2"/>
<path d="M1711.5,1139.5C1707.9,1138.6 1697.2,1135.8 1690.0,1134.1C1682.9,1132.4 1675.8,1130.9 1668.7,1129.3C1661.6,1127.7 1654.5,1126.1 1647.3,1124.6C1640.2,1123.0 1633.0,1121.5 1625.9,1120.0C1618.7,1118.5 1611.5,1117.0 1604.3,1115.6C1597.2,1114.1 1590.0,1112.7 1582.8,1111.3C1575.6,1109.9 1568.4,1108.5 1561.1,1107.1C1553.9,1105.8 1546.7,1104.5 1539.5,1103.2C1532.2,1101.9 1525.0,1100.6 1517.7,1099.4C1510.5,1098.1 1503.2,1096.9 1496.0,1095.7C1488.7,1094.5 1481.4,1093.4 1474.1,1092.3C1466.9,1091.2 1459.6,1090.1 1452.3,1089.0C1445.0,1088.0 1437.7,1087.0 1430.4,1086.0C1423.1,1085.0 1415.8,1084.0 1408.5,1083.1C1401.2,1082.2 1393.8,1081.3 1386.5,1080.5C1379.2,1079.6 1371.9,1078.8 1364.5,1078.0C1357.2,1077.3 1349.9,1076.5 1342.5,1075.8C1335.2,1075.1 1327.9,1074.5 1320.5,1073.8C1313.2,1073.2 1305.8,1072.6 1298.5,1072.1C1291.1,1071.6 1283.8,1071.1 1276.4,1070.6C1269.1,1070.1 1261.7,1069.7 1254.4,1069.3C1247.0,1069.0 1239.7,1068.6 1232.3,1068.3C1225.0,1068.1 1217.6,1067.8 1210.3,1067.6C1202.9,1067.4 1195.5,1067.3 1188.2,1067.2C1180.8,1067.0 1173.5,1067.0 1166.1,1067.0C1158.8,1067.0 1151.4,1067.0 1144.1,1067.1C1136.7,1067.2 1129.4,1067.3 1122.1,1067.5C1114.7,1067.7 1107.4,1068.0 1100.1,1068.3C1092.7,1068.6 1085.4,1069.0 1078.1,1069.5C1070.8,1069.9 1063.5,1070.4 1056.2,1071.0C1048.8,1071.5 1041.5,1072.1 1034.3,1072.8C1027.0,1073.5 1019.7,1074.3 1012.4,1075.1C1005.1,1076.0 997.9,1076.9 990.6,1077.8C983.4,1078.8 976.1,1079.9 968.9,1081.0C961.6,1082.1 954.4,1083.3 947.2,1084.6C940.0,1085.9 932.8,1087.2 925.6,1088.6C918.4,1090.1 911.2,1091.6 904.1,1093.2C896.9,1094.8 889.7,1096.1 882.6,1098.2C875.6,1100.4 865.3,1104.6 861.8,1105.9"/>
<path d="M1273.5,1359.4C1273.0,1357.1 1271.6,1350.3 1270.4,1345.6C1269.3,1340.9 1268.0,1335.9 1266.7,1331.2C1265.3,1326.5 1263.8,1321.8 1262.1,1317.3C1260.5,1312.7 1258.8,1308.3 1256.9,1303.9C1255.1,1299.5 1253.1,1295.2 1251.0,1291.0C1248.9,1286.8 1246.8,1282.7 1244.5,1278.7C1242.2,1274.7 1239.8,1270.7 1237.3,1266.9C1234.8,1263.0 1232.2,1259.3 1229.5,1255.6C1226.8,1251.9 1224.0,1248.3 1221.1,1244.8C1218.2,1241.3 1215.2,1237.8 1212.2,1234.5C1209.1,1231.1 1206.0,1227.9 1202.7,1224.7C1199.5,1221.5 1196.2,1218.4 1192.8,1215.4C1189.4,1212.4 1185.9,1209.5 1182.4,1206.6C1178.9,1203.8 1175.2,1201.0 1171.6,1198.3C1167.9,1195.7 1164.1,1193.1 1160.3,1190.5C1156.5,1188.0 1152.6,1185.6 1148.7,1183.3C1144.7,1180.9 1140.7,1178.6 1136.7,1176.5C1132.6,1174.3 1128.5,1172.2 1124.3,1170.1C1120.2,1168.1 1115.9,1166.2 1111.7,1164.3C1107.4,1162.5 1103.1,1160.7 1098.8,1159.0C1094.4,1157.3 1090.0,1155.7 1085.6,1154.1C1081.2,1152.6 1076.7,1151.2 1072.2,1149.8C1067.7,1148.4 1063.2,1147.1 1058.6,1145.9C1054.1,1144.7 1049.5,1143.5 1044.9,1142.5C1040.3,1141.4 1035.6,1140.4 1031.0,1139.5C1026.3,1138.6 1021.7,1137.8 1017.0,1137.1C1012.3,1136.3 1007.6,1135.7 1002.9,1135.1C998.2,1134.5 993.5,1134.0 988.7,1133.6C984.0,1133.1 979.3,1132.8 974.5,1132.5C969.8,1132.2 965.1,1132.0 960.3,1131.9C955.6,1131.8 950.9,1131.7 946.2,1131.8C941.5,1131.8 936.7,1131.9 932.1,1132.1C927.4,1132.3 922.7,1132.6 918.0,1132.9C913.3,1133.2 908.7,1133.6 904.1,1134.1C899.4,1134.6 894.8,1135.2 890.2,1135.8C885.7,1136.5 881.1,1137.2 876.6,1138.0C872.1,1138.8 867.6,1139.6 863.1,1140.6C858.7,1141.5 854.3,1142.6 849.8,1143.6C845.4,1144.6 838.6,1146.3 836.4,1146.8"/>
<path d="M1825.0,684.1C1824.2,684.7 1821.6,686.6 1820.1,688.0C1818.5,689.3 1817.0,690.9 1815.6,692.4C1814.1,693.9 1812.7,695.5 1811.3,697.0C1810.0,698.6 1808.6,700.2 1807.3,701.8C1806.0,703.5 1804.7,705.1 1803.5,706.8C1802.3,708.5 1801.1,710.2 1799.9,711.9C1798.8,713.7 1797.6,715.4 1796.6,717.2C1795.5,719.0 1794.4,720.8 1793.4,722.6C1792.4,724.5 1791.4,726.3 1790.5,728.2C1789.6,730.1 1788.7,731.9 1787.8,733.9C1787.0,735.8 1786.2,737.7 1785.4,739.6C1784.6,741.6 1783.9,743.5 1783.1,745.5C1782.4,747.5 1781.8,749.5 1781.1,751.5C1780.5,753.5 1779.9,755.5 1779.4,757.5C1778.8,759.5 1778.3,761.6 1777.8,763.6C1777.4,765.6 1776.9,767.7 1776.5,769.8C1776.1,771.8 1775.8,773.9 1775.5,776.0C1775.2,778.0 1774.9,780.1 1774.6,782.2C1774.4,784.3 1774.2,786.4 1774.0,788.5C1773.9,790.6 1773.8,792.7 1773.7,794.8C1773.6,796.9 1773.5,799.0 1773.5,801.1C1773.5,803.2 1773.6,805.3 1773.7,807.4C1773.7,809.5 1773.8,811.6 1774.0,813.7C1774.2,815.8 1774.4,817.9 1774.6,820.0C1774.8,822.0 1775.1,824.1 1775.4,826.2C1775.7,828.3 1776.1,830.3 1776.5,832.4C1776.9,834.4 1777.3,836.5 1777.8,838.5C1778.3,840.6 1778.8,842.6 1779.4,844.6C1779.9,846.6 1780.5,848.6 1781.2,850.6C1781.8,852.6 1782.5,854.6 1783.2,856.6C1783.9,858.5 1784.7,860.5 1785.5,862.4C1786.3,864.3 1787.2,866.2 1788.1,868.1C1788.9,870.0 1789.9,871.9 1790.8,873.8C1791.8,875.6 1792.8,877.5 1793.9,879.3C1794.9,881.1 1796.0,882.9 1797.2,884.6C1798.3,886.4 1799.5,888.2 1800.7,889.9C1801.9,891.6 1803.2,893.3 1804.5,895.0C1805.8,896.6 1807.2,898.2 1808.6,899.9C1809.9,901.5 1811.8,904.0 1812.5,904.8"/>
<path d="M1785.2,938.6C1784.3,938.6 1781.5,938.4 1779.7,938.3C1777.8,938.3 1775.8,938.3 1773.9,938.4C1772.0,938.4 1770.2,938.6 1768.3,938.8C1766.5,938.9 1764.6,939.2 1762.8,939.5C1761.0,939.8 1759.3,940.1 1757.5,940.6C1755.8,941.0 1754.0,941.4 1752.3,941.9C1750.6,942.5 1748.9,943.0 1747.3,943.6C1745.6,944.2 1744.0,944.9 1742.4,945.6C1740.8,946.3 1739.2,947.1 1737.6,947.9C1736.1,948.7 1734.6,949.5 1733.1,950.4C1731.6,951.3 1730.1,952.2 1728.7,953.2C1727.2,954.2 1725.8,955.2 1724.5,956.3C1723.1,957.3 1721.7,958.4 1720.4,959.5C1719.1,960.7 1717.8,961.8 1716.6,963.0C1715.3,964.2 1714.1,965.5 1712.9,966.7C1711.7,968.0 1710.6,969.3 1709.4,970.6C1708.3,972.0 1707.2,973.3 1706.2,974.7C1705.1,976.1 1704.1,977.5 1703.1,978.9C1702.1,980.4 1701.2,981.9 1700.3,983.4C1699.4,984.8 1698.5,986.4 1697.7,987.9C1696.8,989.4 1696.0,991.0 1695.3,992.6C1694.5,994.2 1693.8,995.8 1693.1,997.4C1692.4,999.0 1691.8,1000.6 1691.2,1002.3C1690.5,1004.0 1690.0,1005.6 1689.5,1007.3C1688.9,1009.0 1688.5,1010.7 1688.0,1012.4C1687.6,1014.1 1687.2,1015.8 1686.8,1017.6C1686.5,1019.3 1686.1,1021.0 1685.9,1022.8C1685.6,1024.5 1685.4,1026.3 1685.2,1028.0C1685.0,1029.8 1684.9,1031.6 1684.8,1033.3C1684.7,1035.1 1684.6,1036.9 1684.6,1038.6C1684.6,1040.4 1684.7,1042.2 1684.8,1044.0C1684.9,1045.7 1685.0,1047.5 1685.2,1049.3C1685.4,1051.0 1685.6,1052.8 1685.9,1054.6C1686.2,1056.3 1686.5,1058.1 1686.9,1059.8C1687.3,1061.6 1687.8,1063.3 1688.2,1065.1C1688.7,1066.8 1689.3,1068.5 1689.8,1070.2C1690.4,1071.9 1691.1,1073.6 1691.8,1075.3C1692.5,1077.0 1693.3,1078.7 1694.0,1080.4C1694.7,1082.0 1695.8,1084.4 1696.1,1085.2"/>
</g>
<g stroke="#000" stroke-width="5">
<path d="M869.1,450.0 L850.5,455.5 L849.5,465.5 L874.1,479.5"/>
<path d="M864.5,489.1 L843.6,487.3 L832.3,479.5 L848.2,520.5"/>
<path d="M838.2,489.1 L832.3,479.5"/>
<path d="M1789.5,621.4 L1792.5,633.0 L1802.7,650.5 L1779.0,648.6"/>
<path d="M1737.3,667.7 L1763.6,679.1 L1791.8,675.5 L1770.5,710.0"/>
<path d="M1785.0,716.8 L1810.0,725.5 L1783.6,750.0"/>
<path d="M1804.7,923.0 L1808.6,945.0 L1790.4,934.7"/>
<path d="M1684.4,1073.5 L1696.1,1085.2 L1702.7,1063.8"/>
<path d="M1704.3,1095.7 L1718.7,1122.2 L1690.6,1120.7"/>
<path d="M1697.7,1121.0 L1708.0,1129.0 L1711.5,1139.0 L1692.2,1155.3"/>
<path d="M826.4,1100.0 L825.9,1123.6 L849.1,1100.0"/>
<path d="M876.4,1041.8 L869.1,1068.2 L899.1,1059.5"/>
<path d="M880.9,1083.6 L861.8,1105.9 L897.3,1110.9"/>
<path d="M851.8,1124.1 L836.4,1146.8 L867.7,1154.5"/>
</g>
</g>
<g fill="none" stroke="#000" stroke-linecap="round" stroke-linejoin="round">
<g transform="translate(1050,30) scale(0.14280)" stroke-width="32.0">
<path d="M330,165C328,156 325,120 315,108C305,96 289,91 270,95C251,99 223,108 200,130C177,152 147,188 130,230C113,272 97,339 97,380C97,421 110,456 130,478C150,500 190,514 220,515C250,516 281,500 310,485C339,470 381,435 395,425"/>
<path d="M545,215C525,220 493,219 480,250C467,281 462,360 468,400C474,440 493,480 515,492C537,504 578,495 600,475C622,455 642,406 650,370C658,334 653,285 645,260C637,235 617,230 600,222C583,214 565,210 545,215Z"/>
<path d="M465,240C481,238 521,228 560,228C599,228 660,240 700,240C740,240 783,228 800,225"/>
<path d="M735,490 L830,180 L885,455 L985,180 L975,540"/>
<path d="M1125,205 L1132,545"/>
<path d="M1085,212C1102,211 1155,204 1190,205C1225,206 1278,216 1295,218"/>
<path d="M1140,370C1167,369 1248,364 1300,365C1352,366 1400,372 1450,375C1500,378 1575,383 1600,385"/>
<path d="M1385,250C1367,258 1324,278 1310,310C1296,342 1290,404 1300,440C1310,476 1348,518 1370,525C1392,532 1417,512 1430,485C1443,458 1452,398 1450,360C1448,322 1431,278 1420,260C1409,242 1403,242 1385,250Z"/>
<path d="M1575,535 L1568,240"/>
<path d="M1568,240C1580,232 1616,192 1640,190C1664,188 1700,208 1710,230C1720,252 1717,296 1700,320C1683,344 1625,366 1610,375"/>
<path d="M1590,380C1592,391 1587,435 1605,445C1623,455 1666,443 1700,440C1734,437 1792,428 1810,425"/>
<path d="M1810,275C1833,272 1900,262 1950,255C2000,248 2083,236 2110,232"/>
<path d="M1893,245 L1853,545"/>
<path d="M2215,130 L2098,675"/>
</g>
<g transform="translate(1080,130) scale(0.09240)" stroke-width="52.0">
<path d="M335,120C328,115 312,88 290,90C268,92 223,107 200,130C177,153 152,197 150,230C148,263 160,307 190,330C220,353 275,358 330,370C385,382 477,387 520,400C563,413 583,427 590,450C597,473 582,515 560,540C538,565 497,589 460,600C423,611 363,608 340,605C317,602 315,599 320,580C325,561 362,505 370,490"/>
<path d="M800,215C833,213 938,203 1000,205C1062,207 1139,209 1170,225C1201,241 1193,268 1185,300C1177,332 1132,378 1120,420C1108,462 1102,528 1110,555C1118,582 1128,592 1170,580C1212,568 1328,497 1360,480"/>
<path d="M800,218C832,228 977,255 990,275C1003,295 925,320 880,340C835,360 748,388 722,398"/>
<path d="M722,398C750,402 851,403 890,420C929,437 957,470 955,500C953,530 908,581 880,600C852,619 817,623 790,615C763,607 734,586 720,550C706,514 709,448 708,400C707,352 714,285 715,262"/>
<path d="M1445,620C1442,583 1427,468 1425,400C1423,332 1431,246 1432,215"/>
<path d="M1432,215C1443,207 1465,176 1500,165C1535,154 1617,152 1640,150"/>
<path d="M1450,420C1470,417 1530,406 1570,400C1610,394 1670,388 1690,385"/>
<path d="M1810,410C1814,415 1813,432 1835,440C1857,448 1922,452 1940,455"/>
</g>
<g transform="translate(1260,140) scale(0.11340)" stroke-width="42.0">
<path d="M195,105C188,104 169,88 150,100C131,112 97,154 80,180C63,206 43,238 50,255C57,272 82,282 120,285C158,288 233,271 280,270C327,269 377,270 400,280C423,290 427,310 420,330C413,350 385,383 360,400C335,417 288,431 270,430C252,429 245,410 255,395C265,380 294,361 330,340C366,319 432,290 470,270C508,250 545,228 560,220"/>
<path d="M630,165C600,163 560,192 540,220C520,248 507,299 510,330C513,361 537,391 560,405C583,419 623,426 650,415C677,404 708,371 720,340C732,309 735,259 720,230C705,201 660,167 630,165Z"/>
<path d="M600,165C617,170 662,190 700,195C738,200 808,195 830,195"/>
<path d="M860,185C838,193 812,224 800,260C788,296 778,367 785,400C792,433 819,457 840,460C861,463 892,447 910,420C928,393 942,335 945,300C948,265 944,229 930,210C916,191 882,177 860,185Z"/>
<path d="M1030,155C1058,154 1145,149 1200,150C1255,151 1333,158 1360,160"/>
<path d="M1180,165 L1097,480"/>
<path d="M1360,162C1348,190 1303,289 1290,330C1277,371 1281,386 1282,410C1283,434 1295,464 1298,475"/>
<path d="M1500,100 L1465,460"/>
<path d="M1265,290C1288,289 1352,285 1400,282C1448,279 1525,274 1550,272"/>
<path d="M1660,180C1646,218 1588,361 1575,410C1562,459 1581,464 1582,475"/>
<path d="M1680,520C1691,474 1725,268 1745,245C1765,222 1782,338 1800,380C1818,422 1838,492 1855,495C1872,498 1887,453 1900,400C1913,347 1929,212 1935,175"/>
<path d="M2240,215C2225,213 2182,198 2150,205C2118,212 2073,236 2050,260C2027,284 2010,318 2010,350C2010,382 2027,425 2050,450C2073,475 2118,497 2150,500C2182,503 2220,487 2240,470C2260,453 2280,415 2270,400C2260,385 2208,383 2180,380C2152,377 2113,380 2100,380"/>
<path d="M2245,430C2236,447 2202,497 2190,530C2178,563 2172,601 2175,630C2178,659 2204,692 2210,705"/>
</g>
<g transform="translate(475,255) scale(0.10500)" stroke-width="48.0">
<path d="M215,300C219,320 234,330 240,420C246,510 248,770 250,840"/>
<path d="M212,292 L250,325"/>
<path d="M72,198C83,207 117,234 140,250C163,266 200,288 212,295"/>
<path d="M75,200C79,195 71,180 100,170C129,160 202,141 250,140C298,139 360,147 390,165C420,183 432,216 430,250C428,284 408,333 380,370C352,407 295,438 260,470C225,502 185,549 170,565"/>
<path d="M200,510C233,507 342,490 400,490C458,490 518,495 550,510C582,525 593,550 590,580C587,610 558,657 530,690C502,723 448,765 420,780C392,795 368,795 360,780C352,765 350,725 370,690C390,655 438,612 480,570C522,528 583,472 620,440C657,408 675,404 700,380C725,356 745,306 770,295C795,284 823,308 850,315C877,322 905,344 930,340C955,336 988,298 1000,290"/>
<path d="M780,275C755,280 720,301 700,330C680,359 660,402 660,450C660,498 678,583 700,620C722,657 762,667 790,670C818,673 850,663 870,640C890,617 905,570 910,530C915,490 910,438 900,400C890,362 870,321 850,300C830,279 805,270 780,275Z"/>
<path d="M935,175C962,188 1044,224 1100,250C1156,276 1230,297 1270,330C1310,363 1332,408 1340,450C1348,492 1340,542 1320,580C1300,618 1253,658 1220,680C1187,702 1137,705 1120,710"/>
<path d="M1120,710C1113,675 1097,572 1080,500C1063,428 1030,317 1020,280"/>
<path d="M1400,210 L1590,690"/>
<path d="M1600,170C1605,200 1620,285 1630,350C1640,415 1647,517 1660,560C1673,603 1693,613 1710,610C1727,607 1745,576 1760,540C1775,504 1793,419 1800,395"/>
<path d="M1840,150C1850,180 1875,271 1900,330C1925,389 1963,490 1990,505C2017,520 2042,454 2060,420C2078,386 2093,320 2100,300"/>
<path d="M2076,-29C2080,1 2091,90 2100,150C2109,210 2113,263 2130,330C2147,397 2175,475 2200,550C2225,625 2267,742 2280,780"/>
</g>
<g transform="translate(520,320) scale(0.10500)" stroke-width="48.0">
<path d="M117,1322C111,1264 93,1081 83,977C73,873 54,758 56,699C58,640 88,634 95,621"/>
<path d="M95,621C121,662 206,793 250,866C294,939 336,1005 362,1060C388,1115 402,1171 406,1194C410,1217 408,1228 384,1200C360,1172 282,1056 262,1027"/>
<path d="M44,988C78,970 187,912 250,877C313,842 394,794 423,777"/>
<path d="M401,710C408,728 424,772 445,821C466,870 505,955 529,1005C553,1055 578,1113 590,1122C602,1131 605,1112 601,1060C597,1008 577,878 568,810C559,742 551,680 548,654"/>
<path d="M579,821C594,836 635,882 668,910C701,938 746,973 779,988C812,1003 848,1007 868,999C888,991 902,971 896,938C890,905 870,853 835,799C800,745 710,646 685,615"/>
<path d="M685,615C701,622 745,648 779,654C813,660 858,656 891,649C924,642 960,621 974,615"/>
<path d="M1065,1010C1056,958 1021,798 1010,700C999,602 1000,471 1000,420C1000,369 1008,399 1010,395"/>
<path d="M1010,395C1033,432 1102,534 1150,620C1198,706 1275,862 1300,910"/>
<path d="M990,770C1008,762 1060,740 1100,720C1140,700 1208,662 1230,650"/>
<path d="M1230,450C1242,483 1262,580 1300,650C1338,720 1433,833 1460,870"/>
<path d="M1230,450C1242,440 1265,401 1300,390C1335,379 1408,373 1440,385C1472,397 1490,431 1490,460C1490,489 1458,529 1440,560C1422,591 1391,631 1381,645"/>
<path d="M1375,700C1382,703 1400,715 1420,717C1440,719 1467,719 1498,714C1529,709 1574,701 1606,689C1638,677 1678,649 1692,641"/>
</g>
<g transform="translate(690,300) scale(0.08400)" stroke-width="56.0">
<path d="M27,665C51,657 117,633 173,617C229,601 320,577 363,568C406,559 421,564 433,563"/>
<path d="M27,665C45,669 107,674 136,687C165,700 188,725 200,746C212,767 212,796 211,812C210,828 198,840 195,845"/>
<path d="M21,904C37,898 85,875 119,865C153,855 196,846 227,844C258,842 288,844 308,855C328,866 341,888 346,910C351,932 347,958 336,990C325,1022 303,1064 281,1099C259,1134 224,1183 206,1201C188,1219 178,1206 173,1207"/>
<path d="M-11,752C-5,769 12,811 27,855C42,899 64,968 81,1018C98,1068 115,1120 130,1152C145,1184 166,1198 173,1207"/>
<path d="M440,520C448,550 468,610 490,700C512,790 557,1000 570,1060"/>
<path d="M440,520C483,558 627,678 700,750C773,822 850,917 880,950"/>
<path d="M880,950C883,937 905,920 900,870C895,820 880,732 850,650C820,568 742,425 720,380"/>
<path d="M700,380 L760,390"/>
<path d="M945,350C954,375 978,442 1000,500C1022,558 1053,643 1080,700C1107,757 1147,817 1160,840"/>
<path d="M990,320C1020,333 1138,380 1170,400C1202,420 1198,425 1180,440C1162,455 1080,482 1060,490"/>
<path d="M1060,490C1090,505 1207,545 1240,580C1273,615 1273,657 1260,700C1247,743 1177,817 1160,840"/>
<path d="M990,310C1025,295 1138,244 1200,220C1262,196 1331,169 1360,165C1389,161 1392,149 1375,195C1358,241 1252,411 1260,440C1268,469 1370,385 1420,370C1470,355 1527,340 1560,350C1593,360 1615,395 1620,430C1625,465 1610,515 1590,560C1570,605 1520,677 1500,700C1480,723 1474,708 1470,700C1466,692 1474,658 1475,650"/>
<path d="M1760,100C1753,117 1730,158 1720,200C1710,242 1697,320 1700,350C1703,380 1707,388 1740,380C1773,372 1840,315 1900,300C1960,285 2055,273 2100,290C2145,307 2170,357 2170,400C2170,443 2137,507 2100,550C2063,593 2000,635 1950,660C1900,685 1825,693 1800,700"/>
</g>
<g transform="translate(1640,235) scale(0.11760)" stroke-width="37.0">
<path d="M295,320C289,312 276,283 260,270C244,257 222,240 200,240C178,240 151,247 130,270C109,293 88,342 75,380C62,418 54,457 55,500C56,543 62,602 80,640C98,678 132,717 160,730C188,743 220,733 250,720C280,707 310,672 340,650C370,628 415,600 430,590"/>
<path d="M540,300C515,317 505,373 500,420C495,467 500,537 510,580C520,623 542,661 560,680C578,699 597,700 620,695C643,690 682,679 700,650C718,621 727,562 730,520C733,478 733,433 720,400C707,367 680,337 650,320C620,303 565,283 540,300Z"/>
<path d="M505,300C521,300 578,292 600,300C622,308 647,344 640,350C633,356 582,342 560,335C538,328 518,310 510,305"/>
<path d="M560,345C575,349 617,365 650,370C683,375 722,380 760,375C798,370 860,346 880,340"/>
<path d="M855,680C858,642 866,510 870,450C874,390 876,356 880,320C884,284 892,249 895,235"/>
<path d="M895,235C912,268 964,360 1000,430C1036,500 1092,618 1110,655"/>
<path d="M1110,655C1113,639 1129,602 1130,560C1131,518 1121,448 1115,400C1109,352 1098,296 1095,275"/>
<path d="M1390,375C1392,364 1403,328 1400,310C1397,292 1387,272 1370,265C1353,258 1322,256 1300,270C1278,284 1253,315 1240,350C1227,385 1217,435 1220,480C1223,525 1238,584 1260,620C1282,656 1318,685 1350,695C1382,705 1413,699 1450,680C1487,661 1550,597 1570,580"/>
<path d="M1670,320C1668,342 1662,403 1660,450C1658,497 1653,562 1660,600C1667,638 1683,663 1700,680C1717,697 1738,703 1760,700C1782,697 1812,682 1830,660C1848,638 1867,600 1870,570C1873,540 1868,499 1850,480C1832,461 1790,459 1760,455C1730,451 1685,455 1670,455"/>
<path d="M1630,265C1652,260 1702,241 1760,235C1818,229 1943,229 1980,228"/>
<path d="M1690,282C1717,286 1819,290 1850,305C1881,320 1883,348 1875,370C1867,392 1834,421 1800,435C1766,449 1692,452 1670,455"/>
<path d="M1985,232C1987,268 1992,375 1995,450C1998,525 1999,642 2000,680"/>
<path d="M1990,240C2008,280 2063,412 2100,480C2137,548 2192,622 2210,650"/>
<path d="M2210,650C2217,625 2246,555 2250,500C2254,445 2243,358 2235,320C2227,282 2206,278 2200,270"/>
<path d="M2300,360L2330,390"/>
</g>
<g transform="translate(1900,235) scale(0.11760)" stroke-width="37.0">
<path d="M110,300C133,294 195,272 250,265C305,258 408,257 440,255"/>
<path d="M220,260C225,297 240,413 250,480C260,547 275,630 280,660"/>
<path d="M420,250C430,283 453,375 480,450C507,525 563,658 580,700"/>
<path d="M420,250C433,238 467,183 500,175C533,167 593,179 620,200C647,221 663,267 660,300C657,333 623,375 600,400C577,425 533,442 520,450"/>
<path d="M520,450C567,455 720,485 800,480C880,475 945,433 1000,420C1055,407 1108,403 1130,400"/>
<path d="M790,640C790,617 783,570 790,500C797,430 823,267 830,220"/>
<path d="M830,220C850,258 915,380 950,450C985,520 1025,608 1040,640"/>
<path d="M1090,290C1117,285 1192,267 1250,260C1308,253 1408,252 1440,250"/>
<path d="M1200,290C1210,325 1247,442 1260,500C1273,558 1277,617 1280,640"/>
<path d="M1440,250C1443,283 1452,388 1460,450C1468,512 1485,592 1490,620"/>
<path d="M1620,250C1600,270 1577,330 1570,380C1563,430 1562,508 1580,550C1598,592 1648,623 1680,630C1712,637 1750,620 1770,590C1790,560 1802,493 1800,450C1798,407 1778,362 1760,330C1742,298 1713,273 1690,260C1667,247 1640,230 1620,250Z"/>
<path d="M1600,250C1617,263 1667,302 1700,330C1733,358 1767,412 1800,420C1833,428 1868,398 1900,380C1932,362 1975,322 1990,310"/>
<path d="M1990,200C1989,237 1988,347 1985,420C1982,493 1977,603 1975,640"/>
<path d="M1990,300C2008,325 2065,408 2100,450C2135,492 2167,528 2200,550C2233,572 2275,588 2300,580C2325,572 2338,547 2350,500C2362,453 2370,358 2370,300C2370,242 2363,188 2350,150C2337,112 2310,77 2290,70C2270,63 2240,103 2230,110"/>
</g>
<g transform="translate(1930,535) scale(0.11760)" stroke-width="40.0">
<path d="M270,165C265,162 258,146 240,150C222,154 183,173 160,190C137,207 105,233 100,250C95,267 100,280 130,290C160,300 227,303 280,310C333,317 413,318 450,330C487,342 497,363 500,380C503,397 495,417 470,430C445,443 382,457 350,460C318,463 292,452 280,450"/>
<path d="M460,205C487,201 563,187 620,180C677,173 770,168 800,165"/>
<path d="M600,200C605,225 621,308 630,350C639,392 651,433 655,450"/>
<path d="M795,120C798,150 802,240 810,300C818,360 835,450 840,480"/>
<path d="M800,120C808,116 827,93 850,95C873,97 920,111 940,130C960,149 977,185 970,210C963,235 925,260 900,280C875,300 833,322 820,330"/>
<path d="M820,330C833,345 878,402 900,420C922,438 927,440 950,440C973,440 1025,423 1040,420"/>
<path d="M1040,225C1055,238 1102,274 1130,300C1158,326 1193,355 1210,380C1227,405 1235,437 1230,450C1225,463 1202,467 1180,460C1158,453 1122,433 1100,410C1078,387 1057,348 1050,320C1043,292 1048,258 1060,240C1072,222 1090,212 1120,210C1150,208 1220,227 1240,230"/>
<path d="M1090,130C1117,132 1203,138 1250,145C1297,152 1350,166 1370,170"/>
<path d="M1370,170C1357,182 1307,221 1290,240C1273,259 1252,275 1270,285C1288,295 1355,294 1400,300C1445,306 1517,317 1540,320"/>
<path d="M1440,440C1453,432 1493,413 1520,390C1547,367 1570,332 1600,300C1630,268 1673,223 1700,200C1727,177 1760,163 1760,160C1760,157 1720,168 1700,180C1680,192 1643,217 1640,230C1637,243 1650,250 1680,260C1710,270 1780,278 1820,290C1860,302 1902,313 1920,330C1938,347 1942,372 1930,390C1918,408 1880,428 1850,440C1820,452 1767,457 1750,460"/>
<path d="M2190,10C2178,42 2140,135 2120,200C2100,265 2077,340 2070,400C2063,460 2075,516 2080,560C2085,604 2097,648 2100,665"/>
</g>
<g transform="translate(1950,615) scale(0.10920)" stroke-width="45.0">
<path d="M140,540C148,508 175,415 190,350C205,285 223,183 230,150"/>
<path d="M230,150C243,142 287,102 310,100C333,98 350,110 370,140C390,170 417,228 430,280C443,332 452,405 450,450C448,495 432,535 420,550C408,565 400,562 380,540C360,518 327,460 300,420C273,380 233,320 220,300"/>
<path d="M230,300C258,295 342,278 400,270C458,262 550,253 580,250"/>
<path d="M590,510C592,483 598,403 600,350C602,297 600,217 600,190"/>
<path d="M600,190C617,213 663,275 700,330C737,385 800,488 820,520"/>
<path d="M820,520C822,503 833,457 830,420C827,383 810,340 800,300C790,260 775,200 770,180"/>
<path d="M760,175L890,250"/>
<path d="M1030,210C1047,225 1105,272 1130,300C1155,328 1160,350 1180,380C1200,410 1238,463 1250,480"/>
<path d="M1220,145C1212,171 1187,249 1170,300C1153,351 1135,405 1120,450C1105,495 1087,550 1080,570"/>
<path d="M1400,185C1395,204 1377,254 1370,300C1363,346 1358,413 1360,460C1362,507 1377,560 1380,580"/>
<path d="M1540,200C1537,225 1523,300 1520,350C1517,400 1515,462 1520,500C1525,538 1545,567 1550,580"/>
<path d="M1510,300C1532,305 1610,313 1640,330C1670,347 1687,372 1690,400C1693,428 1678,470 1660,500C1642,530 1598,567 1580,580C1562,593 1555,580 1550,580"/>
<path d="M1500,300C1533,293 1660,275 1700,260C1740,245 1748,222 1740,210C1732,198 1682,193 1650,190C1618,187 1567,190 1550,190"/>
<path d="M1560,180C1592,181 1693,180 1750,185C1807,190 1875,206 1900,210"/>
<path d="M1880,220C1885,242 1903,297 1910,350C1917,403 1918,508 1920,540"/>
<path d="M1880,290C1900,290 1962,291 2000,290C2038,289 2092,286 2110,285"/>
<path d="M2110,250C2108,267 2098,313 2100,350C2102,387 2108,438 2120,470C2132,502 2152,547 2170,540C2188,533 2212,470 2230,430C2248,390 2272,322 2280,300"/>
<path d="M2310,95C2305,129 2290,216 2280,300C2270,384 2258,517 2250,600C2242,683 2237,740 2230,800C2223,860 2218,935 2210,960C2202,985 2185,952 2180,950"/>
</g>
<g transform="translate(1870,900) scale(0.09240)" stroke-width="52.0">
<path d="M370,130C350,129 288,123 250,125C212,127 158,138 140,140"/>
<path d="M150,150C145,175 127,242 120,300C113,358 108,442 110,500C112,558 115,613 130,650C145,687 175,715 200,720C225,725 252,704 280,680C308,656 355,592 370,575"/>
<path d="M80,460C100,455 153,450 200,430C247,410 333,355 360,340"/>
<path d="M510,715C515,671 530,539 540,450C550,361 565,225 570,180"/>
<path d="M570,180C588,220 642,340 680,420C718,500 780,620 800,660"/>
<path d="M800,660C805,642 827,602 830,550C833,498 827,407 820,350C813,293 795,233 790,210"/>
<path d="M920,210C930,242 958,323 980,400C1002,477 1038,625 1050,670"/>
<path d="M1050,670C1058,625 1084,480 1100,400C1116,320 1138,225 1145,190"/>
<path d="M1250,200C1253,202 1268,190 1270,215C1272,240 1257,294 1260,350C1263,406 1282,493 1290,550C1298,607 1307,667 1310,690"/>
<path d="M1400,140C1405,183 1418,308 1430,400C1442,492 1463,642 1470,690"/>
<path d="M1390,140C1408,140 1465,130 1500,140C1535,150 1575,173 1600,200C1625,227 1650,270 1650,300C1650,330 1628,347 1600,380C1572,413 1500,480 1480,500"/>
<path d="M1480,540C1500,547 1553,574 1600,580C1647,586 1733,576 1760,575"/>
<path d="M1900,200C1873,207 1845,253 1830,300C1815,347 1805,423 1810,480C1815,537 1835,605 1860,640C1885,675 1927,690 1960,690C1993,690 2038,672 2060,640C2082,608 2090,548 2090,500C2090,452 2077,390 2060,350C2043,310 2017,285 1990,260C1963,235 1927,193 1900,200Z"/>
<path d="M1900,220L1910,320"/>
<path d="M2210,250C2208,283 2202,378 2200,450C2198,522 2200,642 2200,680"/>
</g>
<g transform="translate(2070,900) scale(0.09240)" stroke-width="52.0">
<path d="M40,680C40,642 37,522 40,450C43,378 57,283 60,250"/>
<path d="M60,250C75,283 107,375 150,450C193,525 292,658 320,700"/>
<path d="M320,700C323,675 343,608 340,550C337,492 322,403 300,350C278,297 225,250 210,230"/>
<path d="M550,740C545,683 525,482 520,400C515,318 520,275 520,250"/>
<path d="M520,250C537,283 590,387 620,450C650,513 687,600 700,630"/>
<path d="M700,630C707,592 728,468 740,400C752,332 765,250 770,220"/>
<path d="M770,220C780,250 805,323 830,400C855,477 902,638 920,680C938,722 937,655 940,650"/>
<path d="M1040,200C1067,198 1145,191 1200,190C1255,189 1342,194 1370,195"/>
<path d="M1050,200C1042,217 1007,250 1000,300C993,350 1000,437 1010,500C1020,563 1040,643 1060,680C1080,717 1107,720 1130,720C1153,720 1183,707 1200,680C1217,653 1225,580 1230,560"/>
<path d="M1010,420C1028,417 1083,407 1120,400C1157,393 1212,383 1230,380"/>
<path d="M1380,190C1382,225 1387,317 1390,400C1393,483 1398,642 1400,690"/>
<path d="M1380,190C1400,225 1457,332 1500,400C1543,468 1598,553 1640,600C1682,647 1732,667 1750,680"/>
<path d="M1750,680C1753,658 1773,600 1770,550C1767,500 1752,438 1730,380C1708,322 1655,230 1640,200"/>
<path d="M1660,220L1830,380"/>
<path d="M1830,215C1867,213 1967,205 2050,205C2133,205 2281,213 2327,215"/>
<path d="M1980,190C1992,225 2025,325 2050,400C2075,475 2117,600 2130,640"/>
</g>
<g transform="translate(1790,1185) scale(0.13020)" stroke-width="34.0">
<path d="M105,145C102,171 87,254 85,300C83,346 91,392 95,420C99,448 108,462 110,470"/>
<path d="M150,160C167,155 213,137 250,130C287,123 350,122 370,120"/>
<path d="M290,140C294,167 312,250 315,300C318,350 307,417 305,440"/>
<path d="M565,185C562,178 561,148 550,140C539,132 517,130 500,140C483,150 460,173 450,200C440,227 435,268 440,300C445,332 458,370 480,390C502,410 543,425 570,420C597,415 628,370 640,360"/>
<path d="M655,100C661,125 678,192 690,250C702,308 723,412 730,445"/>
<path d="M795,70C801,95 812,161 830,220C848,279 888,391 900,425"/>
<path d="M665,245C681,243 729,238 760,235C791,232 835,227 850,225"/>
<path d="M990,115C988,129 976,169 975,200C974,231 982,278 985,300C988,322 993,325 995,330"/>
<path d="M1100,85C1099,121 1095,242 1095,300C1095,358 1099,408 1100,430"/>
<path d="M1100,85C1117,112 1162,199 1200,250C1238,301 1308,367 1330,390"/>
<path d="M1330,390C1330,375 1337,332 1330,300C1323,268 1305,232 1290,200C1275,168 1248,125 1240,110"/>
<path d="M1440,140C1443,167 1453,253 1460,300C1467,347 1468,397 1480,420C1492,443 1513,447 1530,440C1547,433 1568,408 1580,380C1592,352 1597,288 1600,270"/>
<path d="M1455,90C1471,81 1509,44 1550,35C1591,26 1658,28 1700,35C1742,42 1790,68 1800,80C1810,92 1787,90 1760,110C1733,130 1660,185 1640,200"/>
<path d="M1445,250C1454,243 1479,223 1500,210C1521,197 1558,177 1570,170"/>
<path d="M1640,200C1658,202 1707,212 1750,215C1793,218 1867,211 1900,220C1933,229 1948,250 1950,270C1952,290 1932,322 1910,340C1888,358 1840,369 1820,375C1800,381 1789,384 1790,375C1791,366 1819,329 1825,320"/>
<path d="M2160,110C2152,109 2127,100 2110,105C2093,110 2068,126 2060,140C2052,154 2045,180 2060,190C2075,200 2110,193 2150,200C2190,207 2270,213 2300,230C2330,247 2338,278 2330,300C2322,322 2285,345 2250,360C2215,375 2148,392 2120,390C2092,388 2091,357 2085,350"/>
</g>
<g transform="translate(510,1145) scale(0.12600)" stroke-width="38.0">
<path d="M230,165C225,171 215,182 200,200C185,218 160,245 140,270C120,295 94,327 80,350C66,373 48,402 55,410C62,418 92,405 120,400C148,395 190,382 220,380C250,378 282,378 300,390C318,402 332,427 330,450C328,473 310,507 290,530C270,553 229,582 210,590C191,598 180,588 175,580C170,572 179,547 180,540"/>
<path d="M440,320C433,328 408,348 400,370C392,392 388,422 390,450C392,478 398,520 410,540C422,560 438,575 460,570C482,565 527,520 540,510"/>
<path d="M380,430C392,425 425,412 450,400C475,388 517,367 530,360"/>
<path d="M400,310C410,303 433,278 460,270C487,262 533,260 560,260C587,260 610,268 620,270"/>
<path d="M600,590C602,562 607,473 610,420C613,367 618,295 620,270"/>
<path d="M620,270C633,292 675,358 700,400C725,442 758,500 770,520"/>
<path d="M770,520C770,492 771,402 770,350C769,298 766,229 765,205"/>
<path d="M920,210C913,222 895,250 880,280C865,310 827,373 830,390C833,407 872,385 900,380C928,375 975,353 1000,360C1025,367 1043,400 1050,420C1057,440 1053,462 1040,480C1027,498 992,522 970,530C948,538 921,537 910,530C899,523 901,510 905,490C909,470 930,423 935,410"/>
<path d="M1100,290C1105,308 1120,365 1130,400C1140,435 1155,483 1160,500"/>
<path d="M1150,255C1167,250 1213,232 1250,225C1287,218 1350,217 1370,215"/>
<path d="M1240,215C1245,238 1262,306 1270,350C1278,394 1287,458 1290,480"/>
<path d="M1360,215C1367,234 1385,288 1400,330C1415,372 1442,447 1450,470"/>
<path d="M1480,200C1487,217 1507,262 1520,300C1533,338 1553,408 1560,430"/>
<path d="M1560,430C1567,408 1591,343 1600,300C1609,257 1612,192 1615,170"/>
<path d="M1740,160C1743,183 1752,259 1760,300C1768,341 1781,388 1785,405"/>
<path d="M1850,160C1867,157 1918,147 1950,140C1982,133 2025,123 2040,120"/>
<path d="M1900,145C1905,168 1922,239 1930,280C1938,321 1942,372 1945,390"/>
<path d="M2040,110C2037,125 2022,170 2020,200C2018,230 2020,268 2030,290C2040,312 2065,337 2080,330C2095,323 2108,288 2120,250C2132,212 2145,138 2150,100C2155,62 2150,33 2150,20"/>
<path d="M2150,20C2157,50 2175,133 2190,200C2205,267 2226,350 2240,420C2254,490 2269,587 2275,620"/>
</g>
<g transform="translate(480,1225) scale(0.12180)" stroke-width="40.0">
<path d="M70,440C88,432 142,410 180,395C218,380 280,358 300,350"/>
<path d="M160,420C163,442 173,507 180,550C187,593 197,658 200,680"/>
<path d="M300,355C287,365 268,392 260,420C252,448 245,490 250,520C255,550 272,584 290,600C308,616 342,622 360,615C378,608 395,589 400,560C405,531 400,473 390,440C380,407 355,374 340,360C325,346 313,345 300,355Z"/>
<path d="M825,235C816,249 786,288 770,320C754,352 725,413 730,430C735,447 772,425 800,420C828,415 875,397 900,400C925,403 943,423 950,440C957,457 950,480 940,500C930,520 905,545 890,560C875,575 857,598 850,590C843,582 850,523 850,510"/>
<path d="M960,390C980,383 1040,365 1080,350C1120,335 1180,308 1200,300"/>
<path d="M1040,380C1045,397 1060,450 1070,480C1080,510 1095,547 1100,560"/>
<path d="M1180,300C1187,317 1207,358 1220,400C1233,442 1253,525 1260,550"/>
<path d="M1250,300L1300,225"/>
<path d="M1300,230C1305,258 1321,348 1330,400C1339,452 1351,517 1355,540"/>
<path d="M1300,230C1313,250 1357,312 1380,350C1403,388 1430,442 1440,460"/>
<path d="M1440,460C1442,442 1448,392 1450,350C1452,308 1450,233 1450,210"/>
<path d="M1450,210C1460,230 1492,288 1510,330C1528,372 1552,438 1560,460"/>
<path d="M1590,200C1595,222 1609,283 1620,330C1631,377 1645,477 1655,480C1665,483 1674,400 1680,350C1686,300 1688,208 1690,180"/>
<path d="M1690,180C1698,205 1723,282 1740,330C1757,378 1782,447 1790,470"/>
<path d="M1800,160C1807,183 1827,253 1840,300C1853,347 1847,427 1880,440C1913,453 2013,390 2040,380"/>
<path d="M2000,110C2005,142 2022,253 2030,300C2038,347 2047,375 2050,390"/>
<path d="M2090,85C2100,109 2133,182 2150,230C2167,278 2183,347 2190,370"/>
</g>
<g transform="translate(1080,1420) scale(0.14280)" stroke-width="31.0">
<path d="M100,110C102,142 110,243 115,300C120,357 126,402 130,450C134,498 138,567 140,590"/>
<path d="M40,120C50,112 70,84 100,70C130,56 191,32 220,35C249,38 267,64 275,90C283,116 282,162 270,190C258,218 225,237 200,260C175,283 133,318 120,330"/>
<path d="M120,330C142,325 208,297 250,300C292,303 348,330 370,350C392,370 387,397 380,420C373,443 350,475 330,490C310,505 282,512 260,510C238,508 211,495 200,480C189,465 187,440 195,420C203,400 221,387 250,360C279,333 340,285 370,260C400,235 405,220 430,210C455,200 485,205 520,200C555,195 620,183 640,180"/>
<path d="M440,200C423,212 408,230 400,260C392,290 385,347 390,380C395,413 413,443 430,460C447,477 470,483 490,480C510,477 535,465 550,440C565,415 578,365 580,330C582,295 573,253 560,230C547,207 520,195 500,190C480,185 457,188 440,200Z"/>
<path d="M640,140C645,167 658,240 670,300C682,360 703,467 710,500"/>
<path d="M640,140C650,134 678,108 700,105C722,102 755,104 770,120C785,136 795,170 790,200C785,230 758,270 740,300C722,330 690,367 680,380"/>
<path d="M680,380C697,385 743,400 780,410C817,420 880,435 900,440"/>
<path d="M920,160C922,183 923,248 930,300C937,352 955,442 960,470"/>
<path d="M930,90C950,85 1012,68 1050,60C1088,52 1142,48 1160,45"/>
<path d="M940,150C950,150 992,140 1000,150C1008,160 1003,192 990,210C977,228 933,249 920,260C907,271 912,272 910,275"/>
<path d="M910,270C925,270 977,263 1000,270C1023,277 1043,290 1050,310C1057,330 1050,367 1040,390C1030,413 1003,437 990,450C977,463 965,467 960,470"/>
<path d="M1160,70C1167,100 1184,193 1200,250C1216,307 1246,383 1255,410"/>
<path d="M1160,75C1183,82 1257,106 1300,120C1343,134 1387,155 1420,160C1453,165 1470,145 1500,150C1530,155 1567,188 1600,190C1633,192 1683,165 1700,160"/>
<path d="M1380,180C1360,180 1330,227 1320,260C1310,293 1312,353 1320,380C1328,407 1352,420 1370,420C1388,420 1418,407 1430,380C1442,353 1448,293 1440,260C1432,227 1400,180 1380,180Z"/>
<path d="M1520,100C1498,103 1493,158 1490,200C1487,242 1488,313 1500,350C1512,387 1542,410 1560,420C1578,430 1597,430 1610,410C1623,390 1638,338 1640,300C1642,262 1640,213 1620,180C1600,147 1542,97 1520,100Z"/>
<path d="M1740,70C1742,100 1746,193 1750,250C1754,307 1762,383 1765,410"/>
<path d="M1780,60C1790,87 1822,170 1840,220C1858,270 1882,337 1890,360"/>
<path d="M1890,360C1897,333 1916,255 1930,200C1944,145 1968,58 1975,30"/>
<path d="M1975,30C1982,58 2004,133 2020,200C2036,267 2062,392 2070,430"/>
<path d="M2241,-165C2243,-148 2248,-120 2252,-60C2256,-0 2264,121 2267,193C2270,265 2277,309 2273,370C2269,431 2249,528 2244,559"/>
<path d="M2241,-165L2273,-97"/>
</g>
<g transform="translate(1120,1515) scale(0.10920)" stroke-width="45.0">
<path d="M200,290C196,308 180,357 175,400C170,443 166,492 170,550C174,608 187,692 200,750C213,808 233,867 250,900C267,933 292,942 300,950"/>
<path d="M330,290C338,317 360,390 380,450C400,510 425,578 450,650C475,722 517,842 530,880"/>
<path d="M345,330C354,355 379,420 400,480C421,540 449,627 470,690C491,753 516,832 525,860"/>
<path d="M330,290C350,295 405,298 450,320C495,342 560,383 600,420C640,457 672,502 690,540C708,578 713,613 710,650C707,687 688,730 670,760C652,790 623,815 600,830C577,845 542,847 530,850"/>
<path d="M770,280C775,300 792,347 800,400C808,453 812,530 820,600C828,670 838,782 850,820C862,858 872,845 890,830C908,815 933,772 960,730C987,688 1035,605 1050,580"/>
<path d="M1070,270L1100,285"/>
<path d="M1060,290C1063,317 1070,390 1080,450C1090,510 1108,588 1120,650C1132,712 1145,792 1150,820"/>
<path d="M1270,750C1268,708 1265,578 1260,500C1255,422 1239,332 1240,280C1241,228 1261,205 1265,190"/>
<path d="M1265,190C1279,225 1319,340 1350,400C1381,460 1412,500 1450,550C1488,600 1558,675 1580,700"/>
<path d="M1580,700C1582,667 1593,580 1590,500C1587,420 1565,267 1560,220"/>
<path d="M1540,220C1553,223 1590,230 1620,240C1650,250 1690,295 1720,280C1750,265 1783,180 1800,150C1817,120 1817,108 1820,100"/>
<path d="M1745,230C1752,217 1778,170 1790,150C1802,130 1811,117 1815,110"/>
<path d="M1760,400C1775,399 1827,394 1850,395C1873,396 1892,403 1900,405"/>
<path d="M1720,280C1718,300 1703,350 1710,400C1717,450 1732,535 1760,580C1788,625 1843,660 1880,670C1917,680 1957,665 1980,640C2003,615 2018,557 2020,520C2022,483 2015,442 1990,420C1965,398 1910,393 1870,390C1830,387 1770,398 1750,400"/>
<path d="M1870,390C1895,385 1990,355 2020,360C2050,365 2043,380 2050,420C2057,460 2055,543 2060,600C2065,657 2072,727 2080,760C2088,793 2105,793 2110,800"/>
</g>
</g>
</svg>
</body></html>
